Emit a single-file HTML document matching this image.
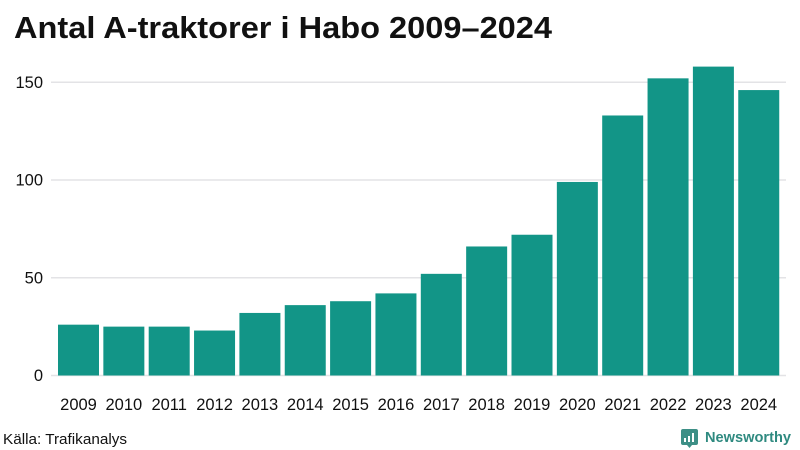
<!DOCTYPE html>
<html lang="sv">
<head>
<meta charset="utf-8">
<title>Antal A-traktorer i Habo 2009–2024</title>
<style>
html,body{margin:0;padding:0;background:#fff;width:800px;height:450px;overflow:hidden}
svg{display:block}
text{font-family:"Liberation Sans",sans-serif;fill:#111}
</style>
</head>
<body>
<svg id="chart" xmlns="http://www.w3.org/2000/svg" width="800" height="450" viewBox="0 0 800 450">
  <text x="14" y="38" font-size="31" font-weight="700" textLength="538" lengthAdjust="spacingAndGlyphs">Antal A-traktorer i Habo 2009–2024</text>
  <g id="grid"></g>
  <g id="bars"></g>
  <g id="y-axis"></g>
  <g id="x-axis"></g>
  <text x="3" y="444" font-size="15" textLength="124" lengthAdjust="spacingAndGlyphs">Källa: Trafikanalys</text>
  <g>
    <path d="M683 429h13a2 2 0 0 1 2 2v12a2 2 0 0 1-2 2h-4l-2.500 3-2.500-3h-4a2 2 0 0 1-2-2v-12a2 2 0 0 1 2-2z" fill="#3d8f86"/>
    <rect x="684" y="438" width="2" height="4" fill="#fff"/>
    <rect x="688" y="436" width="2" height="6" fill="#fff"/>
    <rect x="692" y="433" width="2" height="9" fill="#fff"/>
    <text x="705" y="442" font-size="15" font-weight="700" textLength="86" lengthAdjust="spacingAndGlyphs" style="fill:#2f8a80">Newsworthy</text>
  </g>
</svg>
<script>
const categories = ["2009","2010","2011","2012","2013","2014","2015","2016","2017","2018","2019","2020","2021","2022","2023","2024"];
const seriesValues = [26,25,25,23,32,36,38,42,52,66,72,99,133,152,158,146];
const yTickValues = [0,50,100,150];

const NS = "http://www.w3.org/2000/svg";
const baseY = 375.5, unitPx = 1.955;
const plotLeft = 56, bandStep = 45.35, barWidth = 41;
const yScale = v => baseY - v * unitPx;
const xBand = i => plotLeft + 2 + i * bandStep;

const gridG = document.getElementById("grid");
const barsG = document.getElementById("bars");
const yG = document.getElementById("y-axis");
const xG = document.getElementById("x-axis");

yTickValues.forEach(v => {
  const line = document.createElementNS(NS, "line");
  line.setAttribute("x1", 51);
  line.setAttribute("x2", 786);
  line.setAttribute("y1", yScale(v));
  line.setAttribute("y2", yScale(v));
  line.setAttribute("stroke", "#e3e3e6");
  line.setAttribute("stroke-width", 1.6);
  
  
  gridG.appendChild(line);

  const label = document.createElementNS(NS, "text");
  label.setAttribute("x", 43);
  label.setAttribute("y", yScale(v) + 5.5);
  label.setAttribute("text-anchor", "end");
  label.setAttribute("font-size", 16.5);
  label.textContent = v;
  
  
  yG.appendChild(label);
});

seriesValues.forEach((v, i) => {
  const bar = document.createElementNS(NS, "rect");
  bar.setAttribute("x", xBand(i));
  bar.setAttribute("y", yScale(v));
  bar.setAttribute("width", barWidth);
  bar.setAttribute("height", baseY - yScale(v));
  bar.setAttribute("fill", "#129587");
  
  
  barsG.appendChild(bar);
});

categories.forEach((c, i) => {
  const label = document.createElementNS(NS, "text");
  label.setAttribute("x", xBand(i) + barWidth / 2);
  label.setAttribute("y", 410);
  label.setAttribute("text-anchor", "middle");
  label.setAttribute("font-size", 16.5);
  label.textContent = c;
  
  
  xG.appendChild(label);
});
</script>
</body>
</html>
